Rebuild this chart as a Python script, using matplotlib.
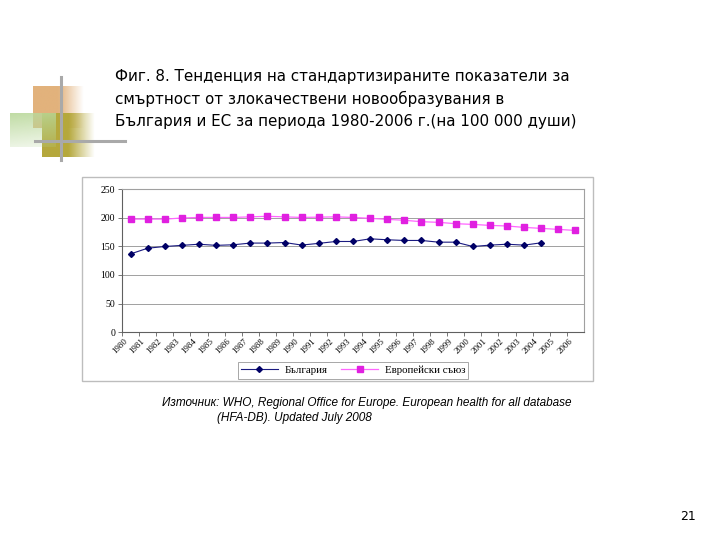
import numpy as np
import matplotlib
matplotlib.use("Agg")
import matplotlib.pyplot as plt
from matplotlib.patches import Rectangle
from matplotlib.lines import Line2D

years = [str(y) for y in range(1980, 2007)]
bulgaria = [137, 147, 150, 152, 154, 152, 153, 156, 156, 157, 152.5, 155.5,
            158.8, 158.8, 163.5, 161.8, 160.6, 160.6, 157.6, 157.6, 150,
            152.4, 154, 152.4, 156.5]
eu = [198, 198, 198, 200, 201, 201, 201, 202, 203, 202, 201, 201.5, 202, 201,
      199.4, 197.6, 196, 193.5, 192.4, 190, 188.8, 187, 186, 183.5, 181.8,
      180, 178.2]
yticks = [0, 50, 100, 150, 200, 250]

title = ("Фиг. 8. Тенденция на стандартизираните показатели за\n"
         "смъртност от злокачествени новообразувания в\n"
         "България и ЕС за периода 1980-2006 г.(на 100 000 души)")
source1 = "Източник: WHO, Regional Office for Europe. European health for all database"
source2 = "(HFA-DB). Updated July 2008"

W, H = 720, 540
fig = plt.figure(figsize=(7.2, 5.4), dpi=100)
fig.patch.set_facecolor("white")

bg = fig.add_axes([0, 0, 1, 1], zorder=0)
bg.set_xlim(0, W)
bg.set_ylim(H, 0)
bg.axis("off")


def grad_rect(x0, x1, y0, y1, color, fade="right"):
    n = 64
    rgba = np.zeros((n, n, 4))
    rgba[..., :3] = matplotlib.colors.to_rgb(color)
    t = np.linspace(0, 1, n)
    if fade == "right":
        alpha = np.tile(np.clip(1 - np.clip((t - 0.5) / 0.5, 0, 1), 0, 1), (n, 1))
    else:
        tx, ty = np.meshgrid(t, t)
        alpha = np.clip(1.0 - 0.7 * ty - 0.1 * tx, 0, 1) * 0.9
    rgba[..., 3] = alpha
    bg.imshow(rgba, extent=(x0, x1, y1, y0), aspect="auto", interpolation="bilinear", zorder=1)


grad_rect(33, 84, 86, 128, "#E2B27C", "right")
grad_rect(42, 95, 113, 157, "#B5A83C", "right")
grad_rect(10, 56, 113, 147, "#B9D89A", "diag")
bg.plot([61, 61], [77, 160], color="#A9A9A9", lw=2.2, zorder=3)
bg.plot([35, 125], [141, 141], color="#A9A9A9", lw=2.2, zorder=3)
bg.set_xlim(0, W)
bg.set_ylim(H, 0)

bg.add_patch(Rectangle((82, 177), 511, 204, fill=False, edgecolor="#BDBDBD", lw=1.0, zorder=2))

fig.text(115 / W, 1 - 69 / H, title, ha="left", va="top", fontsize=10.9,
         family="DejaVu Sans", linespacing=1.55, color="black")

fig.text(162 / W, 1 - 403 / H, source1, ha="left", va="center", fontsize=8.5,
         family="Liberation Sans", style="italic", color="black")
fig.text(217 / W, 1 - 418 / H, source2, ha="left", va="center", fontsize=8.5,
         family="Liberation Sans", style="italic", color="black")

fig.text(688 / W, 1 - 516 / H, "21", ha="center", va="center", fontsize=9,
         family="DejaVu Sans", color="black")

ax = fig.add_axes([122 / W, 1 - 332 / H, 462 / W, 142.5 / H], zorder=2)
ax.set_facecolor("white")
x_b = np.arange(len(bulgaria))
x_e = np.arange(len(eu))
ax.plot(x_e, eu, color="#FF66FF", lw=0.9, marker="s", ms=4, mec="#E020E0",
        mfc="#E020E0", zorder=3)
ax.plot(x_b, bulgaria, color="#1A1A80", lw=0.8, marker="D", ms=3,
        mfc="#000066", mec="#000066", zorder=4)

ax.set_xlim(-0.5, len(years) - 0.5)
ax.set_ylim(0, 250)
ax.set_yticks(yticks)
ax.set_yticklabels([str(v) for v in yticks], fontsize=7, family="Liberation Serif")
ax.set_xticks(np.arange(len(years)) - 0.5)
ax.set_xticklabels([])
for i, yl in enumerate(years):
    ax.text(i - 0.4, -9, yl, rotation=45, ha="right", va="top",
            rotation_mode="anchor", fontsize=6.3, family="Liberation Serif",
            transform=ax.transData, clip_on=False)
ax.grid(axis="y", color="#A0A0A0", lw=0.7)
ax.set_axisbelow(True)
for s in ["top", "right"]:
    ax.spines[s].set_color("#A0A0A0")
    ax.spines[s].set_linewidth(0.8)
for s in ["left", "bottom"]:
    ax.spines[s].set_color("#606060")
    ax.spines[s].set_linewidth(0.8)
ax.tick_params(axis="y", length=3, width=0.6, color="#606060", pad=2)
ax.tick_params(axis="x", length=3, width=0.6, color="#606060", direction="out")

handles = [
    Line2D([], [], color="#1A1A80", lw=0.8, marker="D", ms=3, mfc="#000066", mec="#000066"),
    Line2D([], [], color="#FF66FF", lw=0.9, marker="s", ms=4, mfc="#E020E0", mec="#E020E0"),
]
leg = fig.legend(handles, ["България", "Европейски съюз"], loc="center",
                 bbox_to_anchor=(353 / W, 1 - 370.5 / H), ncol=2, frameon=True,
                 fancybox=False, edgecolor="#909090", prop={"family": "Liberation Serif", "size": 7.8},
                 handlelength=3.4, columnspacing=1.3, borderpad=0.3, handletextpad=0.6)
leg.get_frame().set_linewidth(0.7)

fig.savefig("out.png", dpi=100)
